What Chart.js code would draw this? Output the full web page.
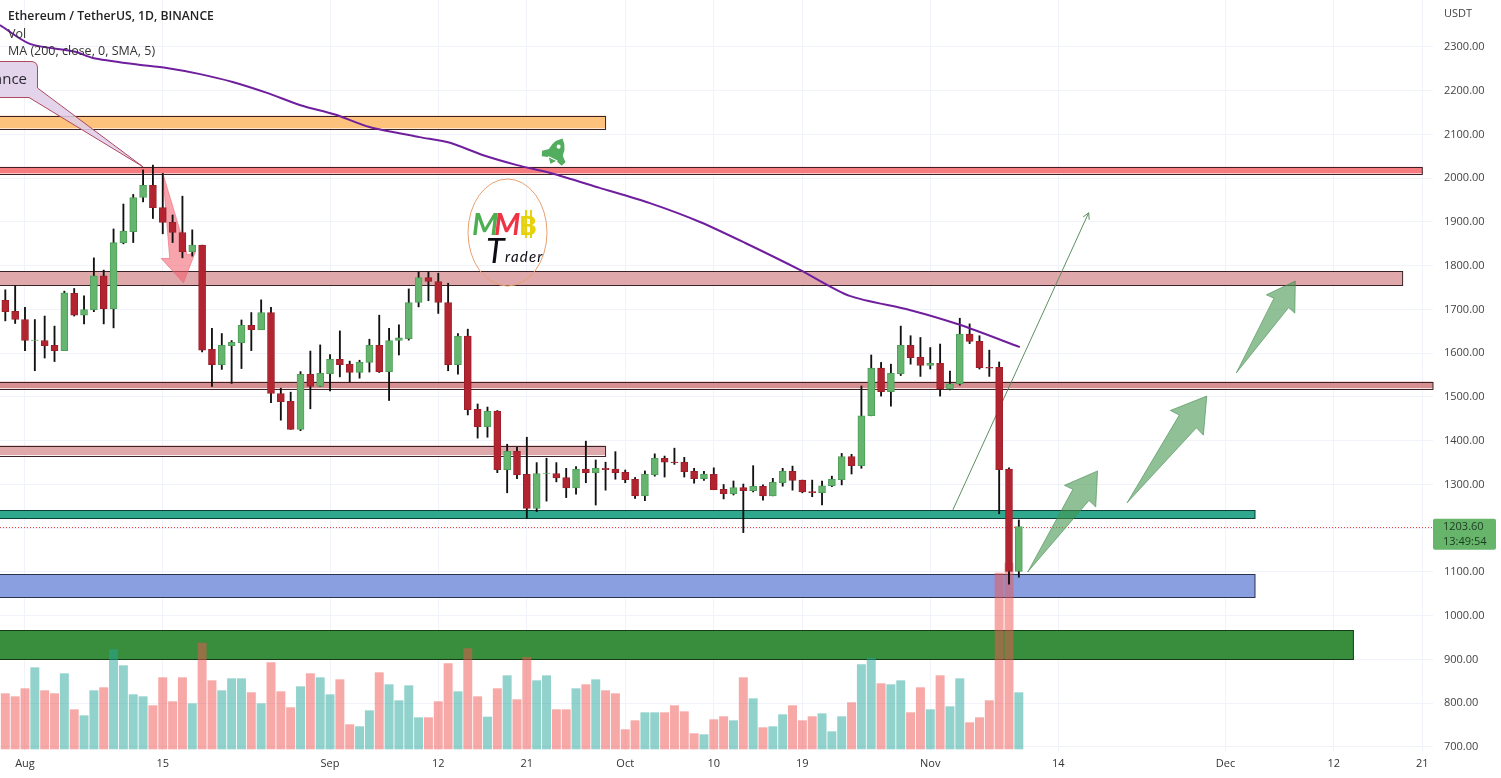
<!DOCTYPE html>
<html>
<head>
<meta charset="utf-8">
<title>ETHUSDT</title>
<script src="https://cdn.jsdelivr.net/npm/chart.js@4/dist/chart.umd.min.js"></script>
<style>
  html, body { margin: 0; padding: 0; background: #fff; overflow: hidden; }
  canvas { display: block; }
</style>
</head>
<body>
<canvas id="chart" width="1501" height="778"></canvas>
<script>
// daily candles, first one is 30 Jul (day -2), day 0 is 1 Aug
const firstDay = -2;
const opens = [1721,1696,1677,1629,1629,1618,1606,1737,1687,1699,1777,1701,1853,1878,1956,1984,1933,1899,1876,1832,1847,1609,1574,1617,1624,1664,1654,1693,1508,1490,1426,1552,1524,1553,1586,1575,1556,1579,1618,1558,1629,1633,1716,1773,1764,1716,1574,1639,1472,1432,1468,1334,1376,1323,1245,1325,1325,1316,1292,1335,1327,1337,1335,1328,1312,1274,1322,1360,1351,1351,1330,1313,1323,1289,1279,1293,1286,1296,1274,1304,1330,1310,1284,1281,1297,1311,1364,1343,1457,1566,1512,1553,1618,1591,1572,1577,1518,1530,1644,1627,1568,1568,1335,1101];
const highs = [1745,1754,1705,1677,1685,1662,1742,1748,1731,1818,1790,1884,1941,1963,2019,2030,2011,1916,1959,1882,1847,1657,1645,1629,1676,1693,1722,1705,1520,1511,1558,1605,1619,1597,1651,1582,1584,1632,1687,1657,1665,1747,1786,1786,1783,1760,1645,1655,1484,1477,1469,1392,1385,1408,1350,1360,1350,1337,1341,1399,1356,1351,1375,1333,1316,1331,1370,1365,1383,1362,1337,1330,1338,1300,1308,1301,1343,1299,1314,1337,1342,1310,1310,1308,1319,1371,1369,1525,1596,1579,1575,1662,1640,1636,1613,1621,1559,1680,1667,1640,1607,1580,1338,1219];
const lows = [1674,1668,1606,1560,1589,1581,1606,1685,1667,1695,1667,1658,1850,1853,1946,1908,1873,1853,1818,1822,1603,1524,1563,1531,1565,1606,1654,1487,1447,1426,1423,1473,1524,1514,1546,1535,1543,1557,1556,1492,1596,1630,1706,1720,1691,1560,1552,1459,1406,1408,1327,1281,1313,1223,1238,1262,1306,1270,1278,1304,1253,1287,1312,1304,1268,1263,1319,1317,1346,1317,1303,1309,1288,1267,1276,1190,1283,1264,1274,1296,1287,1281,1272,1253,1295,1299,1324,1337,1457,1502,1479,1549,1575,1547,1564,1502,1516,1527,1622,1564,1547,1233,1072,1088];
const closes = [1695,1677,1629,1630,1617,1606,1738,1687,1700,1777,1701,1853,1879,1956,1984,1933,1899,1876,1832,1847,1607,1574,1618,1625,1664,1654,1693,1508,1489,1426,1552,1524,1554,1586,1574,1556,1579,1618,1558,1629,1635,1716,1773,1764,1716,1574,1639,1471,1432,1467,1334,1376,1322,1245,1325,1326,1315,1292,1335,1327,1337,1334,1327,1311,1274,1323,1360,1351,1350,1329,1313,1324,1288,1279,1293,1286,1296,1274,1305,1330,1309,1283,1281,1297,1312,1364,1343,1457,1566,1512,1554,1618,1590,1572,1577,1518,1530,1644,1627,1567,1566,1334,1101,1203.6];
const volumes = [166,157,181,244,175,166,226,118,100,175,184,298,250,163,157,130,214,142,214,136,318,205,175,211,211,169,136,259,172,124,187,226,214,163,208,73,67,115,229,193,145,190,94,94,142,256,172,301,157,96,181,220,148,275,205,220,118,118,181,193,208,175,166,58,85,109,109,109,130,112,46,43,88,97,85,214,151,64,67,103,130,85,97,106,52,97,139,253,273,196,193,205,109,184,118,220,127,211,79,94,145,528,558,169];

// MA 200, read at a few places along the curve
const maDays = [-2.54,0.5,5.1,6.9,11,14.4,17.8,21.1,24.6,28,31.6,35,40.1,43.2,46.5,50,53.4,58.4,63.5,68.6,73.2,78.8,83.8,89.9,95,101.1];
const maValues = [2350,2307,2289,2275,2261,2252,2238,2220,2195,2167,2145,2117,2094,2081,2053,2030,2012,1978,1943,1900,1852,1790,1731,1699,1665,1614];

const priceTicks = [2300,2200,2100,2000,1900,1800,1700,1600,1500,1400,1300,1200,1100,1000,900,800,700];
const dateTicks = [0,14,31,42,51,61,70,79,92,105,122,133,142];
const dateLabels = ['Aug','15','Sep','12','21','Oct','10','19','Nov','14','Dec','12','21'];

// drawn zones: low, high, last day, fill
const zoneLows = [2114,2011,1755,1520,1367,1223,1042,901];
const zoneHighs = [2143,2026,1787,1535,1389,1241,1095,967];
const zoneEnds = [59,142,140,143.1,59,125,125,135];
const zoneColors = ['#fdc27c','#f77c80','#dfa9ab','#d68e90','#dfa9ab','#2fa88d','#8a9fe0','#388e3c'];

const lastPrice = 1203.60;
const countdown = '13:49:54';

const days = opens.map((v, i) => i + firstDay);
const red = '#b2242f', green = '#65b56e';

function bigArrow(ctx, a, b, fill, line) {
  const len = Math.hypot(b.x - a.x, b.y - a.y);
  const ux = (b.x - a.x) / len, uy = (b.y - a.y) / len;
  const nx = -uy, ny = ux;
  const pt = (along, side) => [b.x - ux * along + nx * side, b.y - uy * along + ny * side];
  const back = len * 0.25, wide = len * 0.155, neck = len * 0.08;
  ctx.beginPath();
  ctx.moveTo(a.x, a.y);
  ctx.lineTo(...pt(back * 0.95, neck));
  ctx.lineTo(...pt(back, wide));
  ctx.lineTo(b.x, b.y);
  ctx.lineTo(...pt(back, -wide));
  ctx.lineTo(...pt(back * 0.95, -neck));
  ctx.closePath();
  ctx.fillStyle = fill;
  ctx.fill();
  ctx.strokeStyle = line;
  ctx.lineWidth = 1;
  ctx.stroke();
}

function drawRocket(ctx, cx, cy) {
  ctx.save();
  ctx.translate(cx, cy);
  ctx.rotate(0.45);
  ctx.fillStyle = '#52ad5f';
  ctx.beginPath();
  ctx.moveTo(0, -15);
  ctx.quadraticCurveTo(10, -7, 7, 7);
  ctx.lineTo(-7, 7);
  ctx.quadraticCurveTo(-10, -7, 0, -15);
  ctx.fill();
  ctx.beginPath();
  ctx.moveTo(-6, -1); ctx.lineTo(-13, 5); ctx.lineTo(-11, 10); ctx.lineTo(-5, 8); ctx.closePath();
  ctx.moveTo(6, -1); ctx.lineTo(13, 5); ctx.lineTo(11, 10); ctx.lineTo(5, 8); ctx.closePath();
  ctx.moveTo(-4, 8); ctx.lineTo(4, 8); ctx.lineTo(0, 13); ctx.closePath();
  ctx.fill();
  ctx.fillStyle = '#fff';
  ctx.beginPath();
  ctx.arc(0, -6, 2, 0, Math.PI * 2);
  ctx.fill();
  ctx.restore();
}

function drawLogo(ctx) {
  ctx.strokeStyle = '#e8a070';
  ctx.lineWidth = 1;
  ctx.beginPath();
  ctx.ellipse(507.5, 232.5, 39.5, 53.5, 0, 0, Math.PI * 2);
  ctx.stroke();
  ctx.textAlign = 'left';
  ctx.textBaseline = 'alphabetic';
  ctx.font = 'italic bold 30px Lato';
  ctx.fillStyle = '#4caf50';
  ctx.fillText('M', 472, 235);
  ctx.fillStyle = '#ee3344';
  ctx.fillText('M', 494, 235);
  ctx.font = 'bold 27px Lato';
  ctx.fillStyle = '#e6d20a';
  ctx.fillText('B', 519, 235);
  ctx.fillRect(525, 210, 2, 28);
  ctx.fillRect(530, 210, 2, 28);
  ctx.fillStyle = '#0d0d14';
  ctx.font = 'italic 34px Lato';
  ctx.fillText('T', 486, 263);
  ctx.font = 'italic 15px Lato';
  ctx.letterSpacing = '1.2px';
  ctx.fillText('rader', 505, 262);
  ctx.letterSpacing = '0px';
}

const drawings = {
  id: 'drawings',
  beforeDatasetsDraw(chart) {
    const ctx = chart.ctx, x = chart.scales.x, y = chart.scales.y, area = chart.chartArea;
    const at = (d, p) => ({ x: x.getPixelForValue(d), y: y.getPixelForValue(p) });
    ctx.save();

    zoneLows.forEach((low, i) => {
      const top = y.getPixelForValue(zoneHighs[i]), bottom = y.getPixelForValue(low);
      const right = Math.min(x.getPixelForValue(zoneEnds[i]), area.right);
      ctx.fillStyle = zoneColors[i];
      ctx.fillRect(-2, top, right + 2, bottom - top);
      ctx.strokeStyle = '#3a2226';
      if (i === 5) ctx.strokeStyle = '#0d3d36';
      if (i === 7) ctx.strokeStyle = '#123d16';
      if (i === 6) ctx.strokeStyle = '#2a3350';
      ctx.lineWidth = 1;
      ctx.strokeRect(-2, Math.round(top) + 0.5, right + 2, Math.round(bottom - top));
    });

    // last price dotted line
    const py = Math.round(y.getPixelForValue(lastPrice)) + 0.5;
    ctx.strokeStyle = '#ef3f3c';
    ctx.setLineDash([1, 2]);
    ctx.beginPath();
    ctx.moveTo(0, py);
    ctx.lineTo(area.right, py);
    ctx.stroke();
    ctx.setLineDash([]);

    bigArrow(ctx, at(14, 2012), at(16.1, 1761), 'rgba(242,90,105,0.55)', 'rgba(235,100,115,0.6)');
    bigArrow(ctx, at(101.9, 1100), at(109, 1331), 'rgba(70,150,80,0.6)', 'rgba(70,140,80,0.6)');
    bigArrow(ctx, at(112, 1258), at(120.1, 1502), 'rgba(70,150,80,0.6)', 'rgba(70,140,80,0.6)');
    bigArrow(ctx, at(123.1, 1555), at(129.1, 1765), 'rgba(70,150,80,0.6)', 'rgba(70,140,80,0.6)');

    // thin target line with a small head
    const s = at(94.3, 1242), e = at(108.1, 1921);
    const ang = Math.atan2(e.y - s.y, e.x - s.x);
    ctx.strokeStyle = '#5c8f60';
    ctx.lineWidth = 1;
    ctx.beginPath();
    ctx.moveTo(s.x, s.y);
    ctx.lineTo(e.x, e.y);
    ctx.moveTo(e.x - 7 * Math.cos(ang - 0.5), e.y - 7 * Math.sin(ang - 0.5));
    ctx.lineTo(e.x, e.y);
    ctx.lineTo(e.x - 7 * Math.cos(ang + 0.5), e.y - 7 * Math.sin(ang + 0.5));
    ctx.stroke();

    // callout
    const tip = at(12, 2026);
    ctx.fillStyle = 'rgba(222,205,232,0.85)';
    ctx.strokeStyle = '#b0485e';
    ctx.lineWidth = 1;
    ctx.beginPath();
    ctx.moveTo(-5, 61.5);
    ctx.lineTo(31, 61.5);
    ctx.quadraticCurveTo(37.5, 61.5, 37.5, 68);
    ctx.lineTo(37.5, 88);
    ctx.lineTo(tip.x, tip.y);
    ctx.lineTo(29, 97.5);
    ctx.lineTo(-5, 97.5);
    ctx.closePath();
    ctx.fill();
    ctx.stroke();
    ctx.fillStyle = '#2a2a33';
    ctx.font = '15px "Open Sans"';
    ctx.textAlign = 'right';
    ctx.textBaseline = 'middle';
    ctx.fillText('Resistance', 27, 80);

    drawRocket(ctx, 556, 152);
    drawLogo(ctx);
    ctx.restore();
  },
  afterDraw(chart) {
    const ctx = chart.ctx, y = chart.scales.y;
    ctx.save();
    ctx.textAlign = 'left';
    ctx.textBaseline = 'middle';
    ctx.fillStyle = '#222';
    ctx.font = '600 12.2px "Open Sans"';
    ctx.fillText('Ethereum / TetherUS, 1D, BINANCE', 8, 17);
    ctx.font = '12.5px "Open Sans"';
    ctx.fillStyle = '#333';
    ctx.fillText('Vol', 8, 34);
    ctx.fillText('MA (200, close, 0, SMA, 5)', 8, 51);

    ctx.font = '11px "Open Sans"';
    ctx.fillStyle = '#444';
    ctx.fillText('USDT', 1444, 14);

    // price tag on the axis
    const py = y.getPixelForValue(lastPrice);
    ctx.fillStyle = '#66b56a';
    ctx.beginPath();
    ctx.roundRect(1433, py - 8, 63, 31, 2);
    ctx.fill();
    ctx.fillStyle = '#1c3a20';
    ctx.fillText(lastPrice.toFixed(2), 1443, py);
    ctx.fillText(countdown, 1443, py + 15);
    ctx.restore();
  }
};

new Chart(document.getElementById('chart'), {
  type: 'bar',
  data: {
    datasets: [
      {
        type: 'line',
        data: maDays.map((d, i) => ({ x: d, y: maValues[i] })),
        borderColor: '#6f1f9e',
        borderWidth: 2,
        pointRadius: 0,
        tension: 0.25,
        order: 1
      },
      {
        data: days.map((d, i) => ({ x: d, y: [opens[i], closes[i]] })),
        backgroundColor: days.map((d, i) => closes[i] >= opens[i] ? green : red),
        borderColor: days.map((d, i) => closes[i] >= opens[i] ? '#4f9e5a' : '#9c1f2a'),
        borderWidth: 1,
        borderSkipped: false,
        barThickness: 7,
        grouped: false,
        order: 2
      },
      {
        data: days.map((d, i) => ({ x: d, y: [lows[i], highs[i]] })),
        backgroundColor: '#111',
        barThickness: 1.2,
        grouped: false,
        order: 3
      },
      {
        yAxisID: 'vol',
        data: days.map((d, i) => ({ x: d, y: volumes[i] })),
        backgroundColor: days.map((d, i) => closes[i] >= opens[i] ? 'rgba(38,166,154,0.5)' : 'rgba(239,83,80,0.5)'),
        barThickness: 8.3,
        grouped: false,
        order: 4
      }
    ]
  },
  plugins: [drawings],
  options: {
    responsive: false,
    animation: false,
    layout: { padding: 0 },
    plugins: { legend: { display: false }, tooltip: { enabled: false } },
    scales: {
      x: {
        type: 'linear',
        offset: false,
        min: -2.54,
        max: 143.09,
        afterFit(scale) {
          scale.height = 27;
          scale.paddingLeft = 0;
          scale.paddingRight = 0;
        },
        afterBuildTicks(scale) { scale.ticks = dateTicks.map(v => ({ value: v })); },
        grid: { color: '#f0f3fa', drawTicks: false, offset: false },
        border: { display: false },
        ticks: {
          autoSkip: false,
          maxRotation: 0,
          padding: 6,
          color: '#333',
          font: { family: 'Open Sans', size: 11 },
          callback: v => dateLabels[dateTicks.indexOf(v)]
        }
      },
      y: {
        position: 'right',
        min: 690.8,
        max: 2407.4,
        afterFit(scale) {
          scale.width = 68;
          scale.paddingTop = 0;
          scale.paddingBottom = 0;
        },
        afterBuildTicks(scale) { scale.ticks = priceTicks.map(v => ({ value: v })); },
        grid: { color: '#f0f3fa', drawTicks: false },
        border: { display: false },
        ticks: {
          autoSkip: false,
          padding: 11,
          color: '#444',
          font: { family: 'Open Sans', size: 11 },
          callback: v => v.toFixed(2)
        }
      },
      vol: { display: false, min: -6, max: 2247 }
    }
  }
});
</script>
</body>
</html>
